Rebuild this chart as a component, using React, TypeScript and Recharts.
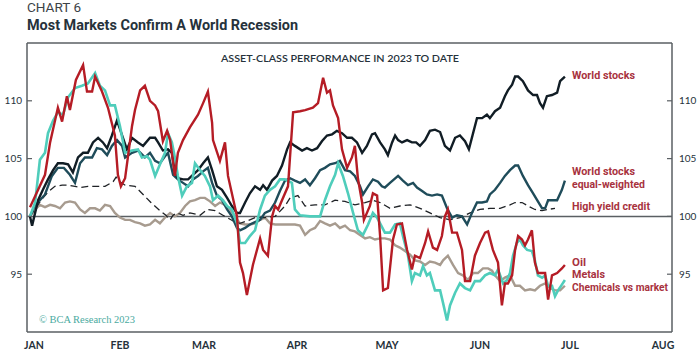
import React from "react";
import { LineChart, Line, XAxis, YAxis, ReferenceLine } from "recharts";

// x = days since 1 Jan 2023, y = index (start of year = 100)
const monthTicks = [0, 31, 59, 90, 120, 151, 181, 212];
const monthLabels = ["JAN", "FEB", "MAR", "APR", "MAY", "JUN", "JUL", "AUG"];
const valueTicks = [95, 100, 105, 110];

const worldStocks: [number, number][] = [
  [1, 100.0], [1.7, 99.2], [3.7, 101.4], [5.3, 102.3], [7, 103.2], [8.7, 104.0], [10.3, 104.6], [12, 104.6],
  [13.7, 104.5], [15.3, 103.8], [17, 105.1], [18.7, 105.5], [20.3, 105.5], [22, 106.4], [23.7, 106.8],
  [25.3, 106.4], [26.7, 105.9], [28.3, 107.0], [30, 108.3], [31.7, 107.0], [33.3, 105.8], [35, 106.8],
  [37, 106.4], [38.7, 106.1], [41, 106.8], [42.7, 106.8], [43.7, 106.4], [45.3, 105.7], [47, 105.8],
  [48.3, 105.5], [49.3, 103.8], [50.3, 103.3], [52, 103.2], [53.7, 103.2], [55.3, 103.6], [57, 104.0],
  [58.7, 104.6], [60.3, 105.1], [61.7, 104.0], [63.3, 102.6], [65, 102.3], [66.7, 101.6], [68.3, 100.9],
  [70, 100.3], [71, 100.3], [72.7, 101.2], [74.3, 102.0], [76, 102.6], [77.7, 102.3], [78.7, 102.7],
  [80, 102.3], [81.7, 103.1], [83.3, 103.5], [85, 104.4], [86.7, 105.8], [87.7, 106.4], [89.3, 106.1],
  [91.7, 105.7], [93.3, 105.9], [95, 105.7], [96.7, 105.9], [98.3, 106.5], [100, 107.0], [101.7, 107.1],
  [103.3, 107.4], [105, 107.2], [106.7, 106.8], [108.3, 106.8], [110, 106.4], [111.7, 105.5], [113.3, 106.1],
  [115, 107.1], [116, 107.2], [117.7, 106.4], [119.3, 105.8], [120.3, 105.3], [121.7, 106.4], [122.7, 107.0],
  [123.7, 106.6], [125, 106.4], [126.7, 106.6], [128.3, 106.4], [129.7, 106.4], [131, 106.1], [132.7, 106.6],
  [134.3, 107.4], [136, 107.5], [137.7, 107.3], [139.3, 106.1], [141, 105.7], [142.7, 106.8], [144.3, 107.0],
  [146, 106.5], [147.3, 105.8], [148.7, 107.2], [150, 108.5], [151.7, 108.5], [153.3, 108.8], [154.3, 108.5],
  [156, 109.1], [157.7, 109.4], [159.3, 110.4], [160.3, 110.9], [161.7, 111.4], [162.7, 112.1], [163.7, 112.1],
  [165.3, 111.7], [167, 110.9], [168.7, 110.5], [170, 110.5], [171, 109.8], [172, 109.4], [173.3, 110.4],
  [175, 110.5], [176.7, 110.7], [177.7, 111.7], [179.3, 112.1],
];

const worldEqual: [number, number][] = [
  [1, 100.0], [2.7, 101.0], [4.3, 101.4], [6, 101.9], [8.3, 103.5], [10.3, 104.2], [12.3, 104.2], [14.3, 103.6],
  [16, 102.9], [17.7, 104.6], [19.3, 105.1], [21.7, 105.1], [23.3, 105.9], [25, 105.8], [26.7, 105.3],
  [28.3, 106.1], [30, 106.6], [31.7, 106.1], [32.7, 105.1], [35, 105.5], [37, 105.7], [39.3, 105.1],
  [41, 105.5], [42.7, 104.8], [44.3, 104.6], [46, 105.2], [47, 105.5], [48.7, 103.6], [50.3, 103.2],
  [52, 102.9], [53.7, 102.6], [55.3, 103.2], [57, 103.5], [58.7, 103.9], [60.3, 104.2], [61.7, 102.9],
  [63.3, 101.8], [65, 101.4], [66.7, 100.6], [68.3, 100.0], [70, 99.0], [71, 98.8], [72.7, 99.0], [74.3, 99.3],
  [76, 99.5], [77.7, 99.7], [79.3, 100.3], [81, 100.5], [82.7, 101.2], [84.3, 102.2], [86, 103.1],
  [87.7, 103.3], [89.3, 103.1], [91, 102.9], [92.7, 103.2], [94.3, 102.7], [96, 103.3], [97.7, 104.0],
  [99.3, 104.2], [101, 104.5], [102.7, 104.6], [104.3, 104.8], [106, 104.0], [107.7, 103.9], [109.3, 103.5],
  [111, 102.6], [112, 101.9], [113.7, 102.6], [115.3, 103.2], [117, 103.0], [118.3, 102.6], [119.3, 102.5],
  [121, 102.9], [123.7, 103.5], [125.3, 103.1], [127, 102.7], [128.7, 102.9], [130, 102.5], [131.7, 102.2],
  [133.3, 101.9], [135, 101.8], [136.7, 101.9], [138.3, 101.8], [140, 100.7], [141.7, 99.9], [143.3, 100.1],
  [145, 100.0], [146.7, 99.3], [148.3, 100.3], [150, 101.2], [151.7, 101.2], [153.3, 101.3], [154.3, 101.9],
  [156, 102.3], [157.7, 102.9], [159.3, 103.5], [161, 104.0], [162.7, 104.4], [163.7, 104.4], [165.3, 103.5],
  [167, 102.7], [168.7, 102.0], [170.3, 101.3], [171.7, 100.7], [172.7, 100.7], [173.7, 101.4], [175, 101.4],
  [176.7, 101.4], [178.3, 102.3], [179.3, 103.1],
];

const highYield: [number, number][] = [
  [1, 100.0], [2, 100.4], [4.7, 101.4], [7, 102.1], [9.3, 102.6], [11.7, 102.7], [13.7, 102.7], [16, 102.6],
  [18, 102.5], [20.3, 102.6], [22.7, 102.6], [26, 102.6], [28.7, 103.0], [29.7, 103.4], [31, 103.0],
  [32.7, 102.7], [36, 102.6], [38.7, 101.9], [41.3, 101.2], [44.3, 100.5], [46.3, 100.1], [47.7, 99.7],
  [48.7, 100.1], [50, 100.3], [52, 100.1], [54.3, 100.3], [57.7, 100.1], [60, 100.6], [62.7, 100.5],
  [65.3, 100.1], [68.7, 99.6], [71, 99.4], [73.3, 99.6], [76, 99.9], [79.3, 99.9], [82.7, 100.0], [86, 100.9],
  [87.7, 101.6], [90.3, 101.8], [92.7, 100.9], [96, 101.0], [99.3, 101.0], [102.7, 101.4], [106, 101.3],
  [109.3, 101.0], [112.7, 101.2], [115.3, 101.4], [117.7, 101.2], [121, 100.7], [124.3, 100.9], [127.7, 101.0],
  [131, 100.7], [134.3, 100.3], [137.7, 99.9], [141, 99.7], [144.3, 99.9], [147.7, 100.3], [151, 100.6],
  [154.3, 100.7], [157.7, 100.7], [161, 101.0], [162.7, 101.2], [165, 101.2], [167, 100.9], [169.3, 100.6],
  [171.7, 100.5], [173.7, 100.6], [176, 100.7],
];

const oil: [number, number][] = [
  [1, 100.8], [3.7, 102.3], [6, 103.6], [7.7, 106.4], [10.3, 109.4], [11.7, 108.2], [13.3, 110.4], [14.3, 109.2],
  [16.3, 111.8], [18.7, 113.1], [20, 110.8], [21.7, 110.8], [22.7, 112.1], [25, 110.8], [27, 109.4],
  [29.3, 107.0], [30.3, 103.6], [31.3, 102.6], [32.7, 103.3], [35, 107.8], [36, 109.2], [37.7, 110.9],
  [39.3, 111.3], [41, 110.0], [42.7, 109.6], [43.7, 109.1], [45.3, 106.5], [46.7, 107.4], [47.7, 106.6],
  [49.3, 103.5], [50.3, 105.5], [52, 106.6], [54.3, 107.7], [57, 108.8], [58.7, 109.8], [60.3, 110.8],
  [61.7, 108.1], [62, 106.6], [64.3, 104.8], [66, 106.4], [67, 103.5], [70, 100.0], [71, 96.0], [72, 95.1],
  [73.3, 93.2], [75.3, 95.8], [77.7, 98.1], [78.7, 97.1], [80.3, 96.6], [81.7, 100.0], [82.7, 100.9],
  [83.7, 100.6], [85, 101.4], [87, 102.6], [88.7, 109.0], [91, 109.1], [92.7, 109.2], [95.3, 109.4],
  [97, 109.8], [98.7, 112.0], [100, 110.7], [101, 110.9], [102, 109.6], [103.7, 108.5], [105, 105.8],
  [106.7, 104.2], [108.3, 105.1], [109.3, 106.1], [110.3, 103.3], [111.7, 101.2], [112.3, 99.7], [114.3, 100.9],
  [115.3, 102.0], [116.7, 101.8], [117.7, 98.3], [118.7, 93.6], [120.3, 93.8], [122, 98.0], [123.3, 99.3],
  [125, 99.4], [126.7, 97.1], [128.3, 95.4], [129.3, 96.6], [131, 96.4], [132.7, 97.7], [133.7, 98.7],
  [135.3, 97.3], [136.7, 97.1], [138.3, 98.3], [139.3, 100.0], [140.3, 100.6], [141.7, 98.6], [143.3, 98.6],
  [145, 97.1], [146, 94.4], [147.7, 94.4], [149.3, 96.6], [151, 97.7], [152.7, 98.6], [153.7, 98.7],
  [155.3, 97.1], [157, 96.0], [158.3, 92.3], [159.3, 94.2], [160.3, 94.2], [161.7, 94.9], [162.7, 97.1],
  [163.7, 98.3], [165, 98.0], [166, 97.5], [167, 98.0], [168.3, 98.8], [169.3, 96.0], [170.3, 95.1],
  [172.7, 95.1], [173.7, 92.8], [175, 94.9], [176.7, 95.1], [178.3, 95.5], [179.3, 95.8],
];

const metals: [number, number][] = [
  [1, 100.0], [2.7, 101.2], [4.3, 104.9], [6, 105.5], [7, 107.2], [8.7, 108.3], [10.3, 109.0], [12, 108.8],
  [13.7, 110.3], [16, 111.1], [18.3, 111.3], [20.3, 111.5], [22.7, 112.4], [24.3, 111.3], [26, 110.9],
  [27.7, 109.6], [29.3, 109.6], [31, 107.8], [32.7, 105.5], [35, 105.7], [37, 105.8], [38.3, 105.1],
  [40, 105.2], [41, 104.9], [42.7, 103.5], [44.3, 104.5], [46, 105.5], [47, 107.2], [48.3, 106.4],
  [49.3, 105.1], [50.3, 103.5], [51.7, 101.8], [53.3, 102.6], [55, 102.9], [56, 104.6], [57.7, 104.0],
  [59.3, 103.5], [61, 102.6], [62, 101.4], [63.7, 101.8], [65.3, 101.4], [66.7, 100.9], [68.3, 100.6],
  [70, 99.4], [71, 97.7], [72.7, 97.7], [74.3, 98.3], [76, 98.8], [77.7, 100.6], [79.3, 101.8], [81, 102.3],
  [82.7, 102.6], [84.3, 103.2], [86, 103.2], [88.3, 102.9], [89.3, 100.6], [91, 100.1], [94.3, 100.0],
  [97.7, 100.0], [99.3, 101.4], [101, 102.6], [102.7, 103.6], [103.7, 104.6], [105.3, 103.5], [107, 102.0],
  [108.7, 100.3], [110.3, 98.8], [112, 98.4], [113.7, 99.3], [115.3, 100.3], [116.7, 99.9], [117.7, 99.4],
  [119.3, 98.6], [121, 98.6], [122.7, 99.3], [124.3, 99.4], [125.3, 98.3], [127, 96.6], [128.3, 94.4],
  [129.3, 95.1], [131, 94.9], [132, 95.7], [133.3, 94.9], [134.3, 95.1], [136, 93.6], [137.7, 93.6],
  [138.7, 92.5], [140, 91.0], [141, 92.3], [142.7, 93.4], [144.3, 94.2], [146, 93.8], [147.7, 93.6],
  [149.3, 94.4], [151, 94.4], [152.7, 94.9], [154.3, 95.1], [156, 94.9], [157, 95.4], [158.7, 94.2],
  [160, 94.5], [161, 95.1], [162, 96.6], [163.3, 97.7], [164.3, 98.0], [165.3, 97.5], [166.7, 97.1],
  [168.3, 97.0], [169.3, 96.2], [170.3, 94.9], [171.7, 94.7], [172.7, 94.9], [173.7, 94.0], [175, 94.0],
  [176, 93.1], [177, 93.6], [178.3, 94.1], [179.3, 94.5],
];

const chemicals: [number, number][] = [
  [1, 100.0], [2.7, 100.6], [4.3, 101.0], [6, 100.8], [7.7, 101.0], [9.3, 100.9], [11, 100.7], [12.7, 101.2],
  [14.3, 101.3], [16, 101.2], [17.7, 100.6], [19.3, 100.3], [21, 100.7], [22.7, 100.7], [24.3, 100.5],
  [26, 101.0], [27.7, 100.9], [29.3, 100.3], [31, 99.9], [32.7, 99.7], [34.3, 99.7], [36, 99.5], [37.7, 99.4],
  [39.3, 99.2], [41, 99.3], [42.7, 99.7], [44.3, 99.4], [46, 99.9], [47.7, 100.3], [49.3, 100.0],
  [51, 100.3], [52.7, 100.9], [54.3, 101.3], [56, 101.4], [57.7, 101.6], [59.3, 101.6], [61, 101.3],
  [62.7, 100.9], [64.3, 101.2], [66, 101.0], [67.7, 100.6], [69.3, 100.0], [71, 99.4], [72.7, 99.3],
  [74.3, 99.3], [76, 99.4], [77.7, 99.7], [79.3, 99.9], [81, 99.4], [82.7, 99.3], [86, 99.3], [89.3, 99.3],
  [91, 99.2], [92.7, 98.4], [94.3, 98.8], [96, 99.0], [97.7, 99.6], [99.3, 99.4], [101, 99.2], [102.7, 99.4],
  [104.3, 99.0], [106, 99.2], [107.7, 98.8], [109.3, 98.7], [111, 98.4], [112.7, 98.1], [114.3, 98.2],
  [116, 98.0], [117.7, 98.1], [119.3, 98.1], [121, 98.0], [122.7, 97.5], [124.3, 97.3], [126, 97.0],
  [127.7, 96.7], [129.3, 96.2], [131, 96.1], [132.7, 95.8], [134.3, 96.1], [136, 96.0], [137.7, 95.8],
  [138.7, 96.2], [140.3, 96.6], [142, 95.8], [143.7, 95.1], [145.3, 94.9], [147, 94.5], [148.7, 95.1],
  [150.3, 95.1], [152, 95.5], [153.7, 95.5], [155, 95.3], [156, 94.9], [157.7, 94.4], [159.3, 94.7],
  [161, 94.9], [162.7, 94.0], [164.3, 94.0], [166, 93.6], [167.7, 93.7], [169.3, 93.6], [171, 94.0],
  [172.7, 94.2], [174.3, 93.8], [176, 93.6], [177.7, 93.6], [179.3, 94.0],
];

const pts = (s: [number, number][]) => s.map(([d, v]) => ({ d, v }));

const axisColor = "#5a5f63";
const labelRed = "#a8323e";
const inkDark = "#26323b";

const MonthTick = (props: any) => {
  const { x, payload, index } = props;
  const first = index === 0;
  return (
    <text
      x={first ? x - 3 : x}
      y={349}
      textAnchor={first ? "start" : "middle"}
      fontFamily="Lato"
      fontWeight={700}
      fontSize={10.5}
      fill={inkDark}
    >
      {monthLabels[monthTicks.indexOf(payload.value)]}
    </text>
  );
};

const LeftTick = (props: any) => {
  const { y, payload } = props;
  return (
    <g>
      <line x1={27} x2={32} y1={y} y2={y} stroke={axisColor} strokeWidth={1.2} />
      <text x={22} y={y + 3.5} textAnchor="end" fontFamily="Lato" fontSize={10} fill={inkDark}>
        {payload.value}
      </text>
    </g>
  );
};

const RightTick = (props: any) => {
  const { y, payload } = props;
  return (
    <g>
      <line x1={667} x2={672} y1={y} y2={y} stroke={axisColor} strokeWidth={1.2} />
      <text x={679} y={y + 3.5} textAnchor="start" fontFamily="Lato" fontSize={10} fill={inkDark}>
        {payload.value}
      </text>
    </g>
  );
};

const seriesLabel = (text: string, y: number, width: number) => (
  <text
    x={572}
    y={y}
    fontFamily="Roboto"
    fontWeight={700}
    fontSize={10}
    fill={labelRed}
    textLength={width}
    lengthAdjust="spacingAndGlyphs"
  >
    {text}
  </text>
);

export default function App() {
  return (
    <div style={{ position: "absolute", left: 0, top: 0, width: 700, height: 358, background: "#fff" }}>
      <LineChart width={700} height={358} margin={{ top: 43, right: 0, bottom: 0, left: 0 }}>
        <XAxis
          dataKey="d"
          type="number"
          domain={[0, 215]}
          ticks={monthTicks}
          interval={0}
          allowDataOverflow
          height={26}
          tickLine={false}
          axisLine={{ stroke: axisColor, strokeWidth: 1.5 }}
          tick={<MonthTick />}
        />
        <YAxis
          yAxisId="left"
          domain={[90, 115]}
          ticks={valueTicks}
          allowDataOverflow
          width={27}
          tickLine={false}
          axisLine={{ stroke: axisColor, strokeWidth: 1.5 }}
          tick={<LeftTick />}
        />
        <YAxis
          yAxisId="right"
          orientation="right"
          domain={[90, 115]}
          ticks={valueTicks}
          allowDataOverflow
          width={28}
          tickLine={false}
          axisLine={{ stroke: axisColor, strokeWidth: 1.5 }}
          tick={<RightTick />}
        />
        <ReferenceLine yAxisId="left" y={115} stroke={axisColor} strokeWidth={1.5} />
        <ReferenceLine yAxisId="left" y={100} stroke={axisColor} strokeWidth={1.5} />
        <Line yAxisId="left" data={pts(chemicals)} dataKey="v" type="linear" stroke="#a79b8f" strokeWidth={2.4} dot={false} isAnimationActive={false} />
        <Line yAxisId="left" data={pts(highYield)} dataKey="v" type="linear" stroke="#1f2226" strokeWidth={1.3} strokeDasharray="7 4" dot={false} isAnimationActive={false} />
        <Line yAxisId="left" data={pts(worldEqual)} dataKey="v" type="linear" stroke="#1f4c5a" strokeWidth={2.4} dot={false} isAnimationActive={false} />
        <Line yAxisId="left" data={pts(worldStocks)} dataKey="v" type="linear" stroke="#111d25" strokeWidth={2.4} dot={false} isAnimationActive={false} />
        <Line yAxisId="left" data={pts(metals)} dataKey="v" type="linear" stroke="#4fcdbb" strokeWidth={2.6} dot={false} isAnimationActive={false} />
        <Line yAxisId="left" data={pts(oil)} dataKey="v" type="linear" stroke="#b51c25" strokeWidth={2.4} dot={false} isAnimationActive={false} />
      </LineChart>
      <svg width={700} height={358} style={{ position: "absolute", left: 0, top: 0, pointerEvents: "none" }}>
        <text x={27} y={12} fontFamily="Roboto" fontSize={12.5} fill="#3c4247" textLength={54} lengthAdjust="spacingAndGlyphs">
          CHART 6
        </text>
        <text x={27} y={30} fontFamily="Roboto" fontWeight={700} fontSize={15} fill={inkDark} textLength={271} lengthAdjust="spacingAndGlyphs">
          Most Markets Confirm A World Recession
        </text>
        <text x={221} y={62} fontFamily="Lato" fontWeight={600} fontSize={10} fill={inkDark} textLength={238} lengthAdjust="spacingAndGlyphs">
          ASSET-CLASS PERFORMANCE IN 2023 TO DATE
        </text>
        {seriesLabel("World stocks", 79, 63)}
        {seriesLabel("World stocks", 175, 63)}
        {seriesLabel("equal-weighted", 188, 73)}
        {seriesLabel("High yield credit", 210, 78)}
        {seriesLabel("Oil", 266, 14)}
        {seriesLabel("Metals", 278, 33)}
        {seriesLabel("Chemicals vs market", 291, 96)}
        <text x={39} y={323} fontFamily="Liberation Serif" fontSize={10.5} fill="#4aaaa0" textLength={96} lengthAdjust="spacingAndGlyphs">
          © BCA Research 2023
        </text>
      </svg>
    </div>
  );
}
